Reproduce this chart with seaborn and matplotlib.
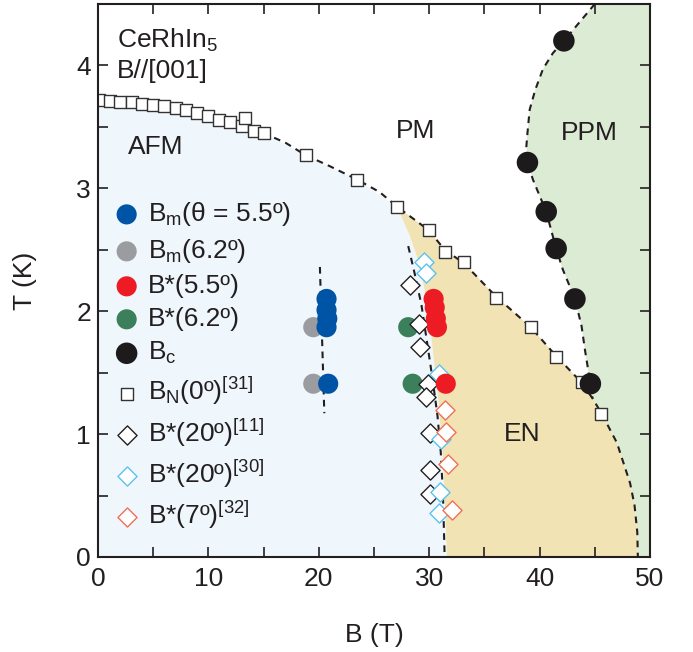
import numpy as np
import pandas as pd
import matplotlib
matplotlib.use("Agg")
import matplotlib.pyplot as plt
import seaborn as sns

# ---------------- data ----------------
# B_m (theta = 5.5 deg), blue
bm55_B = [20.7, 20.7, 20.77, 20.7, 20.85]
bm55_T = [2.10, 2.01, 1.94, 1.87, 1.41]
# B_m (6.2 deg), gray
bm62_B = [19.5, 19.5]
bm62_T = [1.87, 1.41]
# B* (5.5 deg), red
bs55_B = [30.4, 30.5, 30.6, 30.7, 31.5]
bs55_T = [2.10, 2.03, 1.94, 1.87, 1.41]
# B* (6.2 deg), green
bs62_B = [28.1, 28.5]
bs62_T = [1.87, 1.41]
# B_c, black
bc_B = [42.2, 38.9, 40.6, 41.5, 43.2, 44.6]
bc_T = [4.20, 3.21, 2.81, 2.51, 2.10, 1.41]
# B_N (0 deg) [31], open squares
bn_B = [0.1, 1.1, 2.0, 3.05, 4.0, 5.0, 6.0, 7.05, 8.0, 9.0, 10.0, 11.0, 12.0,
        13.0, 13.3, 14.1, 15.0, 18.8, 23.5, 27.1, 29.95, 31.4, 33.15, 36.05,
        39.2, 41.45, 43.8, 45.6]
bn_T = [3.72, 3.71, 3.70, 3.70, 3.69, 3.68, 3.67, 3.65, 3.64, 3.61, 3.59, 3.56,
        3.54, 3.51, 3.57, 3.47, 3.45, 3.27, 3.07, 2.85, 2.66, 2.48, 2.40, 2.11,
        1.87, 1.63, 1.42, 1.165]
# B* (20 deg) [11], open black diamonds
d11_B = [28.3, 29.1, 29.2, 29.85, 29.75, 30.1, 30.1, 30.05]
d11_T = [2.21, 1.90, 1.71, 1.41, 1.30, 1.01, 0.71, 0.51]
# B* (20 deg) [30], open cyan diamonds
d30_B = [29.55, 29.75, 30.9, 31.05, 31.0, 30.9]
d30_T = [2.40, 2.31, 1.49, 0.96, 0.53, 0.36]
# B* (7 deg) [32], open orange diamonds
d32_B = [31.4, 31.5, 31.7, 32.1]
d32_T = [1.20, 1.02, 0.76, 0.38]

# phase boundaries (guides to the eye)
bnline_B = [14.0, 15.0, 17.0, 18.8, 21.0, 23.5, 25.5, 27.1, 29.95, 31.4, 33.15,
            36.05, 39.2, 41.45, 43.8, 44.8, 45.6, 47.0, 48.2, 48.6, 48.85, 48.9]
bnline_T = [3.50, 3.45, 3.37, 3.27, 3.18, 3.07, 2.97, 2.85, 2.66, 2.50, 2.39,
            2.12, 1.87, 1.64, 1.42, 1.29, 1.17, 0.93, 0.60, 0.42, 0.20, 0.0]
bcline_B = [45.0, 43.6, 42.2, 41.2, 40.3, 39.6, 39.1, 38.9, 38.8, 38.9, 39.4,
            40.0, 40.6, 41.5, 42.1, 43.2, 43.8, 44.1, 44.6, 44.8]
bcline_T = [4.50, 4.35, 4.20, 4.10, 3.97, 3.80, 3.64, 3.45, 3.34, 3.21, 3.07,
            2.94, 2.81, 2.51, 2.34, 2.10, 1.88, 1.69, 1.41, 1.29]
bsline_B = [28.1, 28.7, 29.3, 29.8, 30.3, 30.75, 31.05, 31.25, 31.4]
bsline_T = [2.53, 2.30, 2.05, 1.75, 1.45, 1.15, 0.85, 0.50, 0.0]
bmline_B = [20.1, 20.5]
bmline_T = [2.36, 1.17]
afm_top_B = [0.0, 5.0, 10.0, 12.0, 14.0, 15.0, 18.8, 23.5, 27.1]
afm_top_T = [3.70, 3.68, 3.59, 3.54, 3.48, 3.45, 3.27, 3.07, 2.85]
en_left_B = [27.1, 28.26, 29.17, 29.92, 30.43, 30.83, 31.19, 31.43, 31.6]
en_left_T = [2.85, 2.61, 2.37, 2.01, 1.60, 1.28, 0.87, 0.46, 0.0]

xticks = [0, 10, 20, 30, 40, 50]
yticks = [0, 1, 2, 3, 4]

# ---------------- style ----------------
sns.set_theme(style="ticks")
plt.rcParams["font.family"] = ["Liberation Sans", "DejaVu Sans"]
plt.rcParams["mathtext.fontset"] = "custom"
plt.rcParams["mathtext.rm"] = "Liberation Sans"
plt.rcParams["mathtext.it"] = "Liberation Sans:italic"
plt.rcParams["mathtext.bf"] = "Liberation Sans:bold"
plt.rcParams["mathtext.sf"] = "Liberation Sans"

FS = 19
C_AFM = "#eff7fd"
C_EN = "#f1e3b3"
C_PPM = "#dcebd3"
C_TXT = "#231f20"

fig = plt.figure(figsize=(6.93, 6.52), dpi=100)
ax = fig.add_axes([98 / 693, 95 / 652, 552 / 693, 553 / 652])
ax.set_xlim(0, 50)
ax.set_ylim(0, 4.5)

# ---------------- region fills ----------------
# AFM
afm_x = [0.0] + afm_top_B + en_left_B[1:] + [0.0]
afm_y = [0.0] + afm_top_T + en_left_T[1:] + [0.0]
ax.fill(afm_x, afm_y, color=C_AFM, lw=0, zorder=0)
# EN
i27 = bnline_B.index(27.1)
en_x = list(reversed(en_left_B)) + bnline_B[i27:]
en_y = list(reversed(en_left_T)) + bnline_T[i27:]
ax.fill(en_x, en_y, color=C_EN, lw=0, zorder=0)
# PPM
i448 = bnline_B.index(44.8)
ppm_x = bcline_B + bnline_B[i448 + 1:] + [50.0, 50.0]
ppm_y = bcline_T + bnline_T[i448 + 1:] + [0.0, 4.5]
ax.fill(ppm_x, ppm_y, color=C_PPM, lw=0, zorder=0)

# ---------------- dashed guides ----------------
dash = dict(color=C_TXT, lw=1.5, ls=(0, (3.2, 2.6)), zorder=1)
ax.plot(bnline_B, bnline_T, **dash)
ax.plot(bcline_B, bcline_T, **dash)
ax.plot(bsline_B, bsline_T, **dash)
ax.plot(bmline_B, bmline_T, **dash)

# ---------------- markers ----------------
S_C = 210
S_SQ = 82
S_D = 95
sns.scatterplot(x=bm55_B, y=bm55_T, ax=ax, s=S_C, color="#0054a6", edgecolor="none",
                label="B$_\\mathrm{m}$(θ = 5.5º)", zorder=4)
sns.scatterplot(x=bm62_B, y=bm62_T, ax=ax, s=S_C, color="#9a9c9f", edgecolor="none",
                label="B$_\\mathrm{m}$(6.2º)", zorder=3)
sns.scatterplot(x=bs55_B, y=bs55_T, ax=ax, s=S_C, color="#ed1c24", edgecolor="none",
                label="B*(5.5º)", zorder=4)
sns.scatterplot(x=bs62_B, y=bs62_T, ax=ax, s=S_C, color="#3b7f5b", edgecolor="none",
                label="B*(6.2º)", zorder=3)
sns.scatterplot(x=bc_B, y=bc_T, ax=ax, s=S_C + 30, color="#1c1a1b", edgecolor="none",
                label="B$_\\mathrm{c}$", zorder=4)
sns.scatterplot(x=bn_B, y=bn_T, ax=ax, s=S_SQ, marker="s", facecolor="white",
                edgecolor="#333333", linewidth=1.0, label="B$_\\mathrm{N}$(0º)$^{\\mathrm{[31]}}$", zorder=3)
sns.scatterplot(x=d11_B, y=d11_T, ax=ax, s=S_D, marker="D", facecolor="white",
                edgecolor="#231f20", linewidth=1.0, label="B*(20º)$^{\\mathrm{[11]}}$", zorder=3.5)
sns.scatterplot(x=d30_B, y=d30_T, ax=ax, s=S_D, marker="D", facecolor="white",
                edgecolor="#5cc2ec", linewidth=1.0, label="B*(20º)$^{\\mathrm{[30]}}$", zorder=3.5)
sns.scatterplot(x=d32_B, y=d32_T, ax=ax, s=S_D, marker="D", facecolor="white",
                edgecolor="#f26f55", linewidth=1.0, label="B*(7º)$^{\\mathrm{[32]}}$", zorder=3.5)

leg = ax.legend(loc="upper left", bbox_to_anchor=(0.028, 0.645), frameon=False,
                fontsize=FS, handlelength=1.0, handletextpad=0.32, labelspacing=0.34,
                borderpad=0, borderaxespad=0)
for t in leg.get_texts():
    t.set_color(C_TXT)

# ---------------- texts ----------------
ax.text(1.7, 4.147, "CeRhIn$_5$", fontsize=FS, color=C_TXT, ha="left", va="baseline")
ax.text(1.7, 3.90, "B//[001]", fontsize=FS, color=C_TXT, ha="left", va="baseline")
ax.text(5.2, 3.34, "AFM", fontsize=FS, color=C_TXT, ha="center", va="center")
ax.text(28.8, 3.47, "PM", fontsize=FS, color=C_TXT, ha="center", va="center")
ax.text(44.5, 3.45, "PPM", fontsize=FS, color=C_TXT, ha="center", va="center")
ax.text(38.4, 1.0, "EN", fontsize=FS, color=C_TXT, ha="center", va="center")

# ---------------- axes ----------------
ax.set_xticks(xticks)
ax.set_xticks([5, 15, 25, 35, 45], minor=True)
ax.set_yticks(yticks)
ax.set_yticks([0.5, 1.5, 2.5, 3.5], minor=True)
ax.tick_params(which="both", direction="in", length=7, width=1.2, top=True, right=True,
               color=C_TXT, labelcolor=C_TXT, labelsize=FS)
ax.tick_params(axis="x", which="both", pad=7)
ax.tick_params(axis="y", which="both", pad=5)
for s in ax.spines.values():
    s.set_linewidth(1.5)
    s.set_color(C_TXT)
    s.set_zorder(6)
ax.set_xlabel("B (T)", fontsize=FS, color=C_TXT)
ax.set_ylabel("T (K)", fontsize=FS, color=C_TXT)
ax.xaxis.set_label_coords(0.5, -0.12)
ax.yaxis.set_label_coords(-0.11, 0.5)

fig.savefig("out.png", dpi=100)
